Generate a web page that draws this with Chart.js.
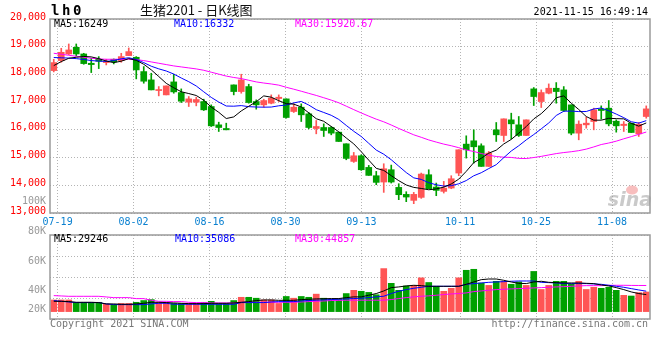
<!DOCTYPE html>
<html>
<head>
<meta charset="utf-8">
<script src="https://cdn.jsdelivr.net/npm/chart.js@4.4.0/dist/chart.umd.min.js"></script>
<style>
body { margin: 0; background: #fff; }
#wrap { position: relative; width: 660px; height: 360px; }
canvas { position: absolute; left: 0; top: 0; }
</style>
</head>
<body>
<div id="wrap">
<canvas id="kChart" width="660" height="360"></canvas>
<canvas id="volChart" width="660" height="360"></canvas>
</div>
<script>
// trading days shown, 07-16 .. 11-15
const dates = [
	"07-16", "07-19", "07-20", "07-21", "07-22", "07-23", "07-26", "07-27", "07-28", "07-29",
	"07-30", "08-02", "08-03", "08-04", "08-05", "08-06", "08-09", "08-10", "08-11", "08-12",
	"08-13", "08-16", "08-17", "08-18", "08-19", "08-20", "08-23", "08-24", "08-25", "08-26",
	"08-27", "08-30", "08-31", "09-01", "09-02", "09-03", "09-06", "09-07", "09-08", "09-09",
	"09-10", "09-13", "09-14", "09-15", "09-16", "09-17", "09-22", "09-23", "09-24", "09-27",
	"09-28", "09-29", "09-30", "10-08", "10-11", "10-12", "10-13", "10-14", "10-15", "10-18",
	"10-19", "10-20", "10-21", "10-22", "10-25", "10-26", "10-27", "10-28", "10-29", "11-01",
	"11-02", "11-03", "11-04", "11-05", "11-08", "11-09", "11-10", "11-11", "11-12", "11-15",
];
const tickDates = ["07-19", "08-02", "08-16", "08-30", "09-13", "10-11", "10-25", "11-08"];

const openP = [
	18139, 18499, 18739, 18979, 18739, 18403, 18547, 18427, 18547, 18499,
	18679, 18619, 18103, 17803, 17418, 17262, 17730, 17346, 16998, 16998,
	17022, 16842, 16181, 16049, 17622, 17382, 17562, 17022, 16902, 16962,
	17130, 17118, 16662, 16818, 16578, 16049, 16085, 16085, 15917, 15497,
	14861, 15065, 14645, 14345, 14117, 14561, 13924, 13672, 13456, 13564,
	14381, 13936, 13780, 13900, 14441, 15485, 15605, 15425, 14681, 16001,
	15797, 16361, 16181, 15797, 17478, 17022, 17322, 17502, 17442, 16902,
	15881, 16181, 16301, 16746, 16782, 16313, 16157, 16241, 15857, 16481,
];
const closeP = [
	18427, 18799, 18883, 18739, 18391, 18355, 18475, 18463, 18451, 18643,
	18823, 18163, 17755, 17442, 17442, 17586, 17370, 17034, 17118, 17094,
	16722, 16145, 16085, 16001, 17382, 17802, 16986, 16902, 17058, 17142,
	17178, 16446, 16818, 16542, 16085, 16121, 15977, 15881, 15581, 14969,
	15065, 14561, 14357, 14105, 14597, 14117, 13660, 13576, 13672, 14405,
	13876, 13816, 13900, 14237, 15281, 15281, 15389, 14681, 15161, 15821,
	16397, 16217, 15797, 16361, 17202, 17346, 17502, 17382, 16698, 15881,
	16205, 16241, 16722, 16698, 16217, 16145, 16205, 15905, 16205, 16757,
];
const highP = [
	18547, 18943, 19099, 19099, 18763, 18583, 18643, 18547, 18560, 18763,
	18955, 18643, 18283, 18043, 17562, 17586, 18007, 17478, 17202, 17178,
	17106, 16902, 16277, 16241, 17622, 18007, 17646, 17082, 17106, 17262,
	17262, 17118, 16938, 16938, 16626, 16337, 16217, 16121, 15917, 15497,
	15185, 15101, 14717, 14501, 14777, 14729, 14057, 13768, 13744, 14441,
	14561, 14081, 14141, 14345, 15281, 15785, 16001, 15497, 15221, 16265,
	16397, 16602, 16482, 16361, 17526, 17442, 17658, 17706, 17562, 16902,
	16325, 16458, 16782, 16866, 17058, 16361, 16301, 16241, 16265, 16865,
];
const lowP = [
	18091, 18439, 18715, 18667, 18367, 18067, 18211, 18343, 18379, 18439,
	18679, 17839, 17683, 17442, 17226, 17262, 17322, 16986, 16842, 16866,
	16698, 16121, 15941, 16001, 17262, 17322, 16962, 16746, 16818, 16938,
	17022, 16422, 16626, 16301, 16037, 15857, 15761, 15821, 15581, 14921,
	14825, 14537, 14357, 14021, 13744, 14081, 13480, 13408, 13336, 13528,
	13876, 13624, 13720, 13876, 14345, 14981, 14801, 14681, 14681, 15581,
	15581, 15677, 15761, 15797, 16878, 16806, 17298, 16962, 16662, 15821,
	15641, 16061, 16001, 16385, 16145, 15917, 15941, 15905, 15761, 16421,
];

const ma5 = [
	18319, 18463, 18583, 18619, 18648, 18633, 18569, 18485, 18427, 18477,
	18571, 18509, 18367, 18165, 17925, 17678, 17519, 17375, 17310, 17240,
	17068, 16823, 16633, 16409, 16467, 16683, 16851, 17015, 17226, 17178,
	17053, 16945, 16928, 16825, 16614, 16402, 16309, 16121, 15929, 15706,
	15495, 15211, 14907, 14611, 14537, 14347, 14167, 14011, 13924, 13886,
	13838, 13869, 13934, 14047, 14222, 14503, 14818, 14974, 15159, 15267,
	15490, 15655, 15879, 16119, 16395, 16585, 16842, 17159, 17226, 16962,
	16734, 16481, 16349, 16349, 16417, 16405, 16397, 16234, 16135, 16249,
];
const ma10 = [
	18610, 18600, 18590, 18570, 18540, 18500, 18480, 18470, 18500, 18563,
	18602, 18539, 18426, 18296, 18201, 18124, 18014, 17871, 17738, 17583,
	17373, 17171, 17004, 16860, 16854, 16875, 16837, 16824, 16818, 16823,
	16868, 16898, 16972, 17026, 16896, 16728, 16627, 16525, 16377, 16160,
	15949, 15760, 15514, 15270, 15121, 14921, 14689, 14459, 14268, 14212,
	14093, 14018, 13972, 13986, 14054, 14170, 14343, 14454, 14603, 14744,
	14996, 15237, 15426, 15639, 15831, 16037, 16249, 16519, 16672, 16678,
	16659, 16662, 16754, 16788, 16689, 16569, 16440, 16293, 16243, 16332,
];
const ma30 = [
	18763, 18727, 18691, 18655, 18619, 18583, 18559, 18547, 18547, 18547,
	18547, 18535, 18499, 18451, 18403, 18355, 18307, 18271, 18235, 18199,
	18150, 18080, 18010, 17940, 17890, 17850, 17790, 17730, 17690, 17656,
	17614, 17536, 17467, 17394, 17317, 17242, 17159, 17073, 16977, 16855,
	16730, 16610, 16496, 16385, 16290, 16175, 16051, 15936, 15821, 15731,
	15636, 15559, 15486, 15427, 15357, 15273, 15220, 15146, 15083, 15039,
	15013, 15005, 14971, 14965, 15002, 15043, 15094, 15144, 15181, 15211,
	15249, 15305, 15384, 15471, 15525, 15592, 15677, 15755, 15839, 15920.67,
];

const volume = [
	20000, 20000, 20000, 16000, 16000, 16000, 16000, 13000, 12000, 14000,
	14000, 16000, 19000, 20600, 16000, 16000, 14000, 14000, 14000, 14000,
	16000, 17700, 14000, 14000, 19000, 24600, 24600, 23000, 20000, 20000,
	14000, 26000, 23000, 26000, 24600, 30000, 23000, 20600, 20600, 31000,
	36600, 34900, 33000, 29000, 73900, 48600, 36600, 44000, 45000, 58000,
	50000, 43500, 34900, 40000, 58000, 71000, 72700, 49000, 45000, 52000,
	52000, 47000, 51000, 45000, 69000, 38000, 45000, 52000, 52000, 47000,
	52000, 38000, 41800, 40000, 41800, 36600, 28000, 26800, 32600, 33700,
];
const volMa5 = [
	17700, 17700, 17200, 16000, 16000, 16000, 15500, 13200, 13200, 12600,
	12600, 13200, 14300, 16000, 16000, 15500, 14900, 14300, 13700, 13700,
	13700, 14300, 14300, 14300, 14900, 16000, 17200, 18900, 20000, 20000,
	19400, 19400, 19400, 20600, 21200, 21800, 22100, 22400, 22400, 24000,
	25300, 25300, 28100, 31000, 35500, 41200, 42400, 44100, 45200, 44600,
	43500, 43500, 43500, 43500, 43500, 46900, 50900, 54900, 56000, 56000,
	53800, 50900, 48600, 48100, 50900, 52100, 50300, 49800, 49200, 49200,
	49200, 48600, 48100, 45800, 44100, 41200, 37800, 33800, 31000, 29246,
];
const volMa10 = [
	18900, 17700, 16600, 15500, 15500, 15500, 15500, 13200, 12000, 12000,
	12000, 12000, 12000, 13200, 14300, 14300, 12600, 12600, 12600, 12600,
	12600, 12600, 12600, 12600, 12600, 15500, 15500, 15500, 15500, 16600,
	17200, 17200, 17200, 18300, 19000, 19600, 20200, 20700, 21200, 21800,
	22400, 23000, 24100, 25300, 26400, 31000, 35000, 37800, 40100, 41800,
	43500, 43500, 43500, 43500, 43500, 46900, 48100, 49200, 50300, 50900,
	51500, 52100, 52600, 52600, 52600, 50300, 49800, 49200, 48100, 48100,
	48100, 48100, 47500, 46900, 45200, 43500, 41800, 39500, 37200, 35086,
];
const volMa30 = [
	27500, 26900, 26300, 26300, 26300, 26300, 26300, 25200, 24000, 24000,
	24000, 22300, 22300, 19400, 17700, 17700, 17200, 17200, 16000, 15500,
	15500, 14900, 14900, 14900, 14900, 16000, 16000, 16000, 16000, 16000,
	16000, 16000, 16000, 16600, 17200, 17700, 18300, 19000, 19300, 19600,
	19600, 19600, 19600, 19600, 19600, 20700, 22400, 24100, 25300, 26400,
	27000, 28100, 29300, 30400, 31000, 32100, 34400, 35500, 36700, 37800,
	38400, 39000, 39500, 40100, 40700, 41200, 41800, 42400, 42900, 43500,
	44100, 44600, 44600, 44600, 45200, 45200, 45200, 45000, 44900, 44857,
];
const volLabels = ["100K", "80K", "60K", "40K", "20K"];

const UP = "#ff5555";
const DOWN = "#00a000";
const mono = "'DejaVu Sans Mono', monospace";
const gridColor = "#b4b4b4";
const n = dates.length;

const candleColor = closeP.map((c, i) => (c >= openP[i] ? UP : DOWN));
const xy = (arr) => arr.map((v, i) => ({ x: i, y: v }));

// sina puts the date lines on a slightly wider step than the candles
function dateTicks(scale) {
	scale.ticks = tickDates.map((d) => ({ value: (dates.indexOf(d) * n) / (n - 1) - 0.5 }));
}

function xAxis(showLabels) {
	return {
		type: "linear",
		min: -0.5,
		max: n - 0.5,
		offset: false,
		afterBuildTicks: dateTicks,
		afterFit: (s) => {
			s.height = showLabels ? 19 : 0;
		},
		grid: { color: gridColor, drawTicks: false, offset: false },
		border: { display: false, dash: [1, 2] },
		ticks: {
			display: showLabels,
			autoSkip: false,
			maxRotation: 0,
			padding: 3,
			color: "#0a80d0",
			font: { family: mono, size: 10 },
			callback: (v, i) => tickDates[i],
		},
	};
}

function maLine(label, arr, color) {
	return {
		type: "line",
		label: label,
		data: xy(arr),
		borderColor: color,
		borderWidth: 1,
		pointRadius: 0,
		tension: 0,
		order: 0,
	};
}

function text(ctx, str, x, y, color, font, align) {
	ctx.fillStyle = color;
	ctx.font = font;
	ctx.textAlign = align || "left";
	ctx.textBaseline = "middle";
	ctx.fillText(str, x, y);
}

function box(chart) {
	const a = chart.chartArea;
	const ctx = chart.ctx;
	ctx.save();
	ctx.strokeStyle = "#9a9a9a";
	ctx.lineWidth = 1.5;
	ctx.strokeRect(a.left, a.top, a.right - a.left, a.bottom - a.top);
	ctx.restore();
}

const kDecor = {
	id: "kDecor",
	beforeDatasetsDraw(chart) {
		const ctx = chart.ctx;
		ctx.save();
		ctx.font = "italic bold 19px 'DejaVu Sans'";
		ctx.fillStyle = "rgba(150,150,150,0.5)";
		ctx.textAlign = "right";
		ctx.textBaseline = "alphabetic";
		ctx.fillText("sina", 652, 206);
		ctx.fillStyle = "rgba(240,110,110,0.45)";
		ctx.beginPath();
		ctx.ellipse(632, 190, 6, 4.5, 0, 0, Math.PI * 2);
		ctx.fill();
		ctx.restore();
	},
	afterDraw(chart) {
		const ctx = chart.ctx;
		box(chart);
		ctx.save();
		"lh0".split("").forEach((c, k) => text(ctx, c, 51 + k * 11, 11, "#000", "bold 14px " + mono));
		text(ctx, "生猪2201 - 日K线图", 140, 10, "#111", "13px 'Noto Sans CJK SC'");
		text(ctx, "2021-11-15 16:49:14", 648, 12, "#000", "10px " + mono, "right");
		text(ctx, "MA5:" + ma5[n - 1], 54, 24, "#000", "10px " + mono);
		text(ctx, "MA10:" + ma10[n - 1], 174, 24, "#0000ff", "10px " + mono);
		text(ctx, "MA30:" + ma30[n - 1], 295, 24, "#ff00ff", "10px " + mono);
		text(ctx, volLabels[0], 46, 201, "#999", "10px " + mono, "right");
		ctx.restore();
	},
};

const volDecor = {
	id: "volDecor",
	afterDraw(chart) {
		const ctx = chart.ctx;
		box(chart);
		ctx.save();
		const labelY = [231, 261, 290, 309];
		volLabels.slice(1).forEach((l, k) => text(ctx, l, 46, labelY[k], "#999", "10px " + mono, "right"));
		text(ctx, "MA5:" + volMa5[n - 1], 54, 239, "#000", "10px " + mono);
		text(ctx, "MA10:" + volMa10[n - 1], 175, 239, "#0000ff", "10px " + mono);
		text(ctx, "MA30:" + volMa30[n - 1], 295, 239, "#ff00ff", "10px " + mono);
		text(ctx, "Copyright 2021 SINA.COM", 50, 324, "#777", "10px " + mono);
		text(ctx, "http://finance.sina.com.cn", 648, 324, "#777", "10px " + mono, "right");
		ctx.restore();
	},
};

const common = {
	responsive: false,
	animation: false,
	events: [],
	plugins: { legend: { display: false }, tooltip: { enabled: false } },
};

new Chart(document.getElementById("kChart"), {
	type: "bar",
	data: {
		datasets: [
			maLine("MA5", ma5, "#000000"),
			maLine("MA10", ma10, "#0000ff"),
			maLine("MA30", ma30, "#ff00ff"),
			{
				label: "body",
				data: openP.map((o, i) => ({ x: i, y: [o, closeP[i]] })),
				backgroundColor: candleColor,
				barThickness: 6,
				minBarLength: 1,
				grouped: false,
				order: 1,
			},
			{
				label: "wick",
				data: lowP.map((l, i) => ({ x: i, y: [l, highP[i]] })),
				backgroundColor: candleColor,
				barThickness: 1,
				grouped: false,
				order: 2,
			},
		],
	},
	options: {
		...common,
		layout: { padding: { top: 19, right: 10, bottom: 128, left: 0 } },
		scales: {
			x: xAxis(true),
			y: {
				min: 13000,
				max: 20000,
				afterFit: (s) => {
					s.width = 50;
				},
				grid: { color: gridColor, drawTicks: false },
				border: { display: false, dash: [1, 2] },
				ticks: {
					stepSize: 1000,
					padding: 4,
					labelOffset: -2,
					color: "#ff0000",
					font: { family: mono, size: 10 },
				},
			},
		},
	},
	plugins: [kDecor],
});

new Chart(document.getElementById("volChart"), {
	type: "bar",
	data: {
		datasets: [
			maLine("MA5", volMa5, "#000000"),
			maLine("MA10", volMa10, "#0000ff"),
			maLine("MA30", volMa30, "#ff00ff"),
			{
				label: "volume",
				data: xy(volume),
				backgroundColor: candleColor,
				barThickness: 6,
				grouped: false,
				order: 1,
			},
		],
	},
	options: {
		...common,
		layout: { padding: { top: 235, right: 10, bottom: 41, left: 0 } },
		scales: {
			x: xAxis(false),
			y: {
				min: -12700,
				max: 131600,
				afterFit: (s) => {
					s.width = 50;
				},
				grid: { color: gridColor, drawTicks: false },
				border: { display: false, dash: [1, 2] },
				ticks: { display: false, count: 5 },
			},
		},
	},
	plugins: [volDecor],
});
</script>
</body>
</html>
